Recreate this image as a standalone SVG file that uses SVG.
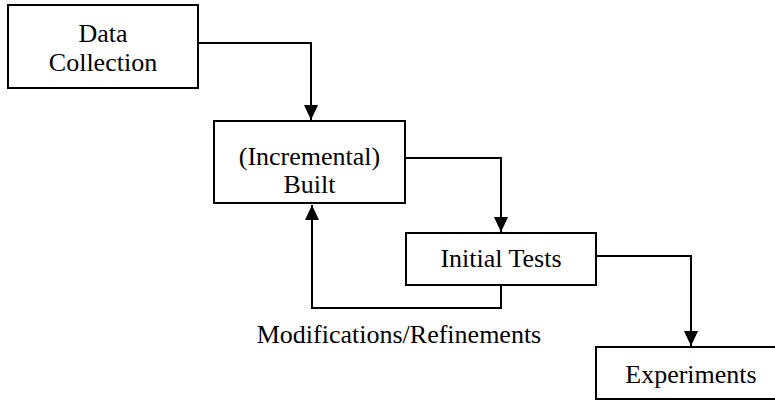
<svg xmlns="http://www.w3.org/2000/svg" width="775" height="402" viewBox="0 0 775 402">
  <style>
    .box { fill: #ffffff; stroke: #000000; stroke-width: 2; }
    .lbl { font-family: "Liberation Serif", "Times New Roman", serif; font-size: 26px; fill: #000000; text-anchor: middle; }
    .edge { fill: none; stroke: #000000; stroke-width: 2; }
  </style>
  <defs>
    <marker id="arrow" markerUnits="userSpaceOnUse" markerWidth="16" markerHeight="16" viewBox="0 0 16 14" refX="15" refY="7" orient="auto">
      <path d="M0,0 L15,7 L0,14 Z" fill="#000000"/>
    </marker>
  </defs>
  <rect width="775" height="402" fill="#ffffff"/>

  <g id="edges">
    <path class="edge" d="M198,43 H311 V120" marker-end="url(#arrow)"/>
    <path class="edge" d="M405,158 H501 V232" marker-end="url(#arrow)"/>
    <path class="edge" d="M501,285 V308 H312 V205" marker-end="url(#arrow)"/>
    <path class="edge" d="M596,256 H691 V346" marker-end="url(#arrow)"/>
    <text class="lbl" x="399" y="343">Modifications/Refinements</text>
  </g>

  <g id="data-collection">
    <rect class="box" x="8" y="5" width="190" height="83"/>
    <text class="lbl" x="103" y="42">Data</text>
    <text class="lbl" x="103" y="71">Collection</text>
  </g>

  <g id="built">
    <rect class="box" x="214" y="121" width="191" height="82"/>
    <text class="lbl" x="309.5" y="165">(Incremental)</text>
    <text class="lbl" x="309.5" y="193">Built</text>
  </g>

  <g id="initial-tests">
    <rect class="box" x="406" y="233" width="190" height="52"/>
    <text class="lbl" x="501" y="267">Initial Tests</text>
  </g>

  <g id="experiments">
    <rect class="box" x="596" y="347" width="190" height="52"/>
    <text class="lbl" x="691" y="383">Experiments</text>
  </g>
</svg>
